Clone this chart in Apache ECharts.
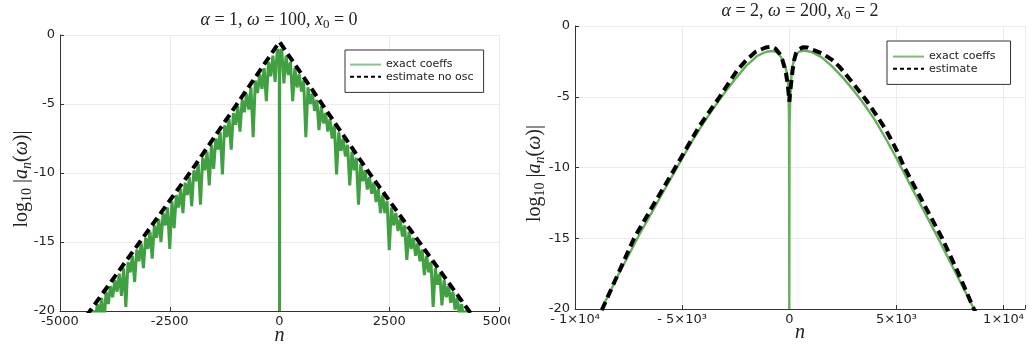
<!DOCTYPE html>
<html>
<head>
<meta charset="utf-8">
<script src="https://cdn.jsdelivr.net/npm/echarts@6/dist/echarts.min.js"></script>
<style>
html, body { margin: 0; padding: 0; background: #fff; }
#wrap { position: relative; width: 1029px; height: 344px; overflow: hidden; }
#left { position: absolute; left: 0; top: 0; width: 510px; height: 344px; }
#right { position: absolute; left: 512px; top: 0; width: 517px; height: 344px; }
</style>
</head>
<body>
<div id="wrap"><div id="left"></div><div id="right"></div></div>
<script>
// ---- tick positions and labels ----
const yTicks = [0, -5, -10, -15, -20];
const leftXTicks = [-5000, -2500, 0, 2500, 5000];
const rightXTicks = [-10000, -5000, 0, 5000, 10000];
const rightXTickLabels = ['- 1×10⁴', '- 5×10³', '0', '5×10³', '1×10⁴'];

// ---- left panel: alpha = 1, omega = 100, x0 = 0 ----
// log10 |a_n| of the exact coefficients, [n, value]
const exactLeft = [
  [-4350,-20.4],[-4300,-21.2],[-4250,-19.95],[-4200,-20.8],[-4150,-19.5],[-4100,-20.3],[-4050,-19.05],[-4000,-21.0],
  [-3950,-18.6],[-3900,-19.5],[-3850,-18.2],[-3800,-19.0],[-3750,-17.75],[-3700,-18.6],[-3650,-17.3],[-3600,-18.9],
  [-3550,-16.9],[-3500,-19.7],[-3450,-16.45],[-3400,-17.2],[-3350,-16.0],[-3300,-17.9],[-3250,-15.55],[-3200,-16.4],
  [-3150,-15.1],[-3100,-16.9],[-3050,-14.7],[-3000,-15.5],[-2950,-14.25],[-2900,-16.2],[-2850,-13.8],[-2800,-14.7],
  [-2750,-13.35],[-2700,-15.0],[-2650,-12.9],[-2600,-13.8],[-2550,-12.5],[-2500,-15.5],[-2450,-12.05],[-2400,-14.0],
  [-2350,-11.6],[-2300,-12.5],[-2250,-11.15],[-2200,-12.9],[-2150,-10.7],[-2100,-11.6],[-2050,-10.3],[-2000,-12.4],
  [-1950,-9.8],[-1900,-10.6],[-1850,-9.35],[-1800,-12.3],[-1750,-8.9],[-1700,-9.8],[-1650,-8.45],[-1600,-10.9],
  [-1550,-7.95],[-1500,-9.7],[-1450,-7.5],[-1400,-8.3],[-1350,-7.05],[-1300,-10.1],[-1250,-6.55],[-1200,-7.4],
  [-1150,-6.1],[-1100,-8.3],[-1050,-5.65],[-1000,-6.5],[-950,-5.15],[-900,-7.0],[-850,-4.7],[-800,-5.6],
  [-750,-4.25],[-700,-5.4],[-650,-3.8],[-600,-7.4],[-550,-3.3],[-500,-4.2],[-450,-2.85],[-400,-3.9],
  [-350,-2.4],[-300,-4.8],[-250,-1.95],[-200,-3.0],[-150,-1.5],[-100,-3.4],[-50,-1.05],[-5,-1.2],
  [0,-20],
  [5,-1.2],[50,-1.05],[100,-3.5],[150,-1.5],[200,-2.9],[250,-1.95],[300,-4.8],[350,-2.4],[400,-3.8],
  [450,-2.85],[500,-4.1],[550,-3.3],[600,-7.4],[650,-3.8],[700,-5.0],[750,-4.25],[800,-5.5],
  [850,-4.7],[900,-6.9],[950,-5.15],[1000,-6.4],[1050,-5.65],[1100,-7.0],[1150,-6.1],[1200,-7.5],
  [1250,-6.55],[1300,-10.1],[1350,-7.05],[1400,-8.4],[1450,-7.5],[1500,-8.8],[1550,-7.95],[1600,-10.9],
  [1650,-8.45],[1700,-9.8],[1750,-8.9],[1800,-12.3],[1850,-9.35],[1900,-10.6],[1950,-9.8],[2000,-11.2],
  [2050,-10.3],[2100,-11.5],[2150,-10.7],[2200,-12.1],[2250,-11.15],[2300,-12.9],[2350,-11.6],[2400,-12.9],
  [2450,-12.05],[2500,-15.6],[2550,-12.5],[2600,-13.8],[2650,-12.9],[2700,-14.2],[2750,-13.35],[2800,-14.6],
  [2850,-13.8],[2900,-16.3],[2950,-14.25],[3000,-15.5],[3050,-14.7],[3100,-16.0],[3150,-15.1],[3200,-16.4],
  [3250,-15.55],[3300,-17.4],[3350,-16.0],[3400,-17.2],[3450,-16.45],[3500,-19.7],[3550,-16.9],[3600,-18.1],
  [3650,-17.3],[3700,-19.6],[3750,-17.75],[3800,-19.0],[3850,-18.2],[3900,-19.4],[3950,-18.6],[4000,-19.9],
  [4050,-19.05],[4100,-20.3],[4150,-19.5],[4200,-20.8],[4250,-19.95],[4300,-21.2],[4350,-20.4]
];
// non-oscillatory estimate
const estimateLeft = [
  [-4400,-20.36],[-3000,-14.2],[-2000,-9.8],[-1000,-5.15],[0,-0.5],
  [1000,-5.15],[2000,-9.8],[3000,-14.2],[4400,-20.36]
];

// ---- right panel: alpha = 2, omega = 200, x0 = 2 ----
const exactRight = [
  [-9000,-20.7],[-8500,-19.2],[-8000,-17.65],[-7500,-16.2],[-7000,-14.75],[-6500,-13.4],[-6000,-12.05],
  [-5500,-10.7],[-5000,-9.35],[-4500,-8.05],[-4000,-6.85],[-3500,-5.73],[-3000,-4.68],[-2500,-3.7],
  [-2000,-2.8],[-1500,-2.12],[-1200,-1.9],[-1000,-1.8],[-800,-1.77],[-600,-1.85],[-450,-2.05],
  [-313,-2.4],[-200,-2.8],[-108,-3.34],[-60,-4.1],[-30,-5.0],[-12,-6.8],[0,-20],
  [12,-7.0],[40,-5.4],[80,-4.0],[125,-3.1],[234,-2.28],[350,-1.95],[467,-1.81],[700,-1.74],
  [1000,-1.82],[1500,-2.2],[2000,-2.85],[2500,-3.65],[3000,-4.55],[3500,-5.55],[4000,-6.65],
  [4500,-7.95],[5000,-9.35],[5500,-10.8],[6000,-12.25],[6500,-13.7],[7000,-15.15],[7500,-16.65],
  [8000,-18.15],[8500,-19.65],[9000,-21.15]
];
const estimateRight = [
  [-9000,-21.0],[-8724,-20.0],[-8000,-17.55],[-7243,-15.0],[-6500,-13.05],[-5800,-11.25],[-5374,-10.15],
  [-4800,-8.65],[-4206,-7.1],[-3800,-6.2],[-3350,-5.23],[-2900,-4.2],[-2414,-3.1],[-2000,-2.4],
  [-1556,-1.81],[-1100,-1.52],[-855,-1.46],[-650,-1.6],[-467,-1.93],[-330,-2.35],[-230,-2.9],
  [-150,-3.4],[-78,-4.05],[-30,-4.8],[0,-5.35],[30,-4.85],[78,-4.15],[156,-3.1],[230,-2.4],
  [312,-1.93],[450,-1.65],[623,-1.51],[850,-1.52],[1100,-1.68],[1558,-1.95],[2000,-2.4],
  [2336,-2.87],[2900,-3.9],[3583,-5.23],[4000,-6.15],[4517,-7.35],[5000,-8.75],[5374,-10.0],
  [6200,-12.35],[7134,-15.0],[7900,-17.5],[8614,-20.0],[8900,-20.9]
];

const SERIF = 'Liberation Serif';
const SANS = 'DejaVu Sans';
const INK = '#222';
const CLEAR = 'rgba(0,0,0,0)';

const titleRich = {
  i: { fontFamily: SERIF, fontSize: 18, fontStyle: 'italic', color: INK },
  s: { fontFamily: SERIF, fontSize: 13, color: INK, padding: [10, 0, 0, 0] }
};
const nameRich = {
  i: { fontFamily: SERIF, fontSize: 20, fontStyle: 'italic', color: INK },
  s: { fontFamily: SERIF, fontSize: 14, color: INK, padding: [11, 0, 0, 0] },
  si: { fontFamily: SERIF, fontSize: 14, fontStyle: 'italic', color: INK, padding: [11, 0, 0, 0] }
};

function buildOption(p) {
  return {
    animation: false,
    backgroundColor: '#fff',
    grid: { left: p.grid[0], top: p.grid[1], right: p.grid[2], bottom: p.grid[3],
            containLabel: false, outerBoundsMode: 'none' },
    graphic: [{
      type: 'text', x: p.titleX, y: p.titleY,
      style: { text: p.title, rich: titleRich, align: 'center', verticalAlign: 'middle',
               fontFamily: SERIF, fontSize: 18, fill: INK }
    }],
    legend: {
      orient: 'vertical', left: p.legend[0], top: p.legend[1], padding: p.legendPad,
      itemWidth: 31, itemHeight: 14, itemGap: 1,
      backgroundColor: '#fff', borderColor: '#333', borderWidth: 1, borderRadius: 0,
      textStyle: { fontFamily: SANS, fontSize: 11, color: INK },
      data: [
        { name: 'exact coeffs', itemStyle: { color: CLEAR, borderWidth: 0 },
          lineStyle: { color: p.legendGreen, width: 2, type: 'solid' } },
        { name: p.estName, itemStyle: { color: CLEAR, borderWidth: 0 },
          lineStyle: { color: '#000', width: 2, type: [4, 3] } }
      ]
    },
    xAxis: {
      type: 'value', min: p.xMin, max: p.xMax, interval: p.xInterval,
      name: 'n', nameLocation: 'middle', nameGap: p.xNameGap, nameMoveOverlap: false,
      nameTextStyle: { fontFamily: SERIF, fontStyle: 'italic', fontSize: 20, color: INK },
      axisLine: { show: true, onZero: false, lineStyle: { color: '#333', width: 1 } },
      axisTick: { show: true, inside: true, length: 4, lineStyle: { color: '#333' } },
      splitLine: { show: true, lineStyle: { color: '#ececec', width: 1 } },
      axisLabel: { color: INK, fontFamily: SANS, fontSize: 13, margin: 4, formatter: p.xFormatter }
    },
    yAxis: {
      type: 'value', min: -20, max: 0, interval: 5,
      name: 'log{s|10} |{i|a}{si|n}({i|ω})|', nameLocation: 'middle', nameRotate: 90,
      nameGap: p.yNameGap, nameMoveOverlap: false,
      nameTextStyle: { fontFamily: SERIF, fontSize: 20, color: INK, rich: nameRich, padding: [0, 12, 0, 0] },
      axisLine: { show: true, onZero: false, lineStyle: { color: '#333', width: 1 } },
      axisTick: { show: true, inside: true, length: 4, lineStyle: { color: '#333' } },
      splitLine: { show: true, lineStyle: { color: '#ececec', width: 1 } },
      axisLabel: { color: INK, fontFamily: SANS, fontSize: 13, margin: 5,
                   formatter: v => (yTicks.indexOf(v) >= 0 ? String(v) : '') }
    },
    series: [
      { type: 'line', name: 'exact coeffs', data: p.exact, symbol: 'none', showSymbol: false,
        clip: true, sampling: null, z: 2,
        lineStyle: { color: p.green, width: p.greenWidth }, itemStyle: { color: p.green } },
      { type: 'line', name: p.estName, data: p.estimate, symbol: 'none', showSymbol: false,
        clip: true, z: 3,
        lineStyle: { color: '#000', width: 4, type: [9, 5] }, itemStyle: { color: '#000' } }
    ]
  };
}

const leftChart = echarts.init(document.getElementById('left'), null, { renderer: 'canvas' });
leftChart.setOption(buildOption({
  grid: [60, 35, 11, 33],
  title: '{i|α} = 1, {i|ω} = 100, {i|x}{s|0} = 0', titleX: 279, titleY: 20,
  legend: [345, 50], legendPad: [9, 10, 10, 4],
  legendGreen: '#88c488', green: '#41a041', greenWidth: 3.0,
  estName: 'estimate no osc',
  xMin: -5000, xMax: 5000, xInterval: 2500, xNameGap: 15, yNameGap: 26,
  xFormatter: v => (leftXTicks.indexOf(v) >= 0 ? String(v) : ''),
  exact: exactLeft, estimate: estimateLeft
}));

const rightChart = echarts.init(document.getElementById('right'), null, { renderer: 'canvas' });
rightChart.setOption(buildOption({
  grid: [63, 26, 4, 35],
  title: '{i|α} = 2, {i|ω} = 200, {i|x}{s|0} = 2', titleX: 288, titleY: 11,
  legend: [375, 41], legendPad: [10, 15, 10, 5],
  legendGreen: '#7cbf72', green: '#66b05c', greenWidth: 2.4,
  estName: 'estimate',
  xMin: -10000, xMax: 11000, xInterval: 5000, xNameGap: 14, yNameGap: 28,
  xFormatter: v => { const k = rightXTicks.indexOf(v); return k < 0 ? '' : rightXTickLabels[k]; },
  exact: exactRight, estimate: estimateRight
}));
</script>
</body>
</html>
